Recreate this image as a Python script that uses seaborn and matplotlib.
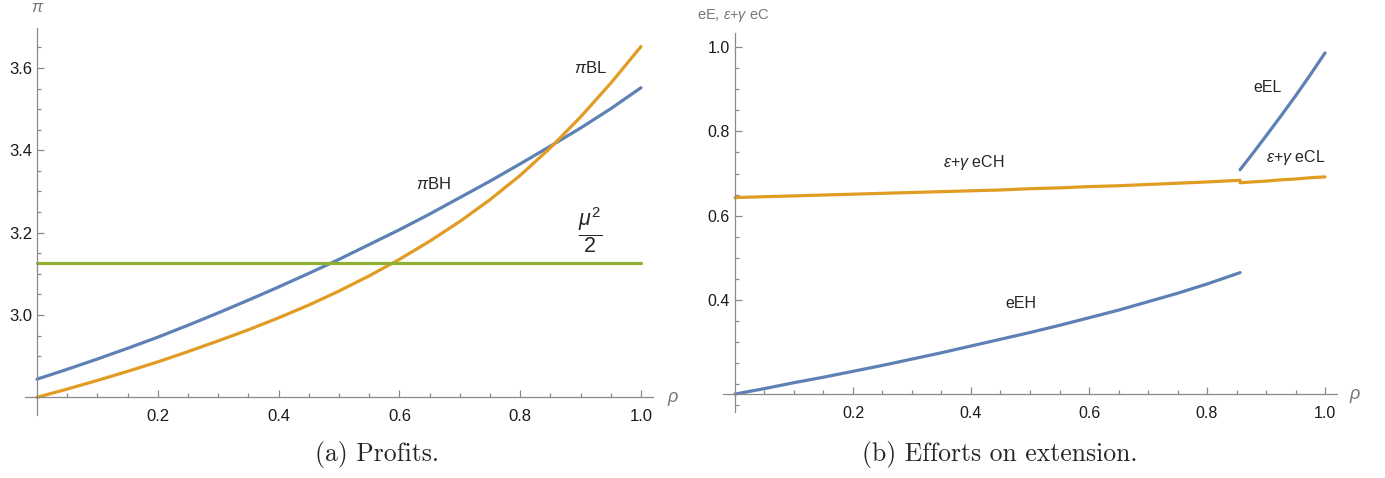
import matplotlib
matplotlib.use("Agg")
import matplotlib.pyplot as plt
import seaborn as sns
import numpy as np
from matplotlib.ticker import FixedLocator

# ---------------- data ----------------
# Profits as a function of rho
rho_profit = [0.00, 0.05, 0.10, 0.15, 0.20, 0.25, 0.30, 0.35, 0.40, 0.45, 0.50,
              0.55, 0.60, 0.65, 0.70, 0.75, 0.80, 0.85, 0.90, 0.95, 1.00]
pi_BH = [2.844, 2.868, 2.893, 2.919, 2.946, 2.975, 3.005, 3.036, 3.068, 3.101, 3.135,
         3.171, 3.207, 3.245, 3.285, 3.325, 3.367, 3.410, 3.454, 3.501, 3.552]
pi_BL = [2.800, 2.820, 2.841, 2.863, 2.886, 2.911, 2.937, 2.964, 2.993, 3.024, 3.058,
         3.095, 3.135, 3.179, 3.227, 3.280, 3.339, 3.406, 3.481, 3.563, 3.652]
rho_flat = [0.0, 1.0]
mu_sq_half = [3.125, 3.125]

# Efforts on extension: high regime up to rho*, low regime after it
rho_H = [0.00, 0.05, 0.10, 0.15, 0.20, 0.25, 0.30, 0.35, 0.40, 0.45, 0.50,
         0.55, 0.60, 0.65, 0.70, 0.75, 0.80, 0.856]
e_EH = [0.177, 0.190, 0.204, 0.217, 0.231, 0.245, 0.260, 0.275, 0.291, 0.307, 0.323,
        0.340, 0.358, 0.376, 0.396, 0.416, 0.438, 0.465]
eps_gamma_eCH = [0.643, 0.645, 0.647, 0.649, 0.651, 0.653, 0.655, 0.657, 0.659, 0.661, 0.664,
                 0.666, 0.669, 0.671, 0.674, 0.677, 0.680, 0.684]
rho_L = [0.856, 0.875, 0.900, 0.925, 0.950, 0.975, 1.000]
e_EL = [0.709, 0.743, 0.789, 0.836, 0.884, 0.934, 0.986]
eps_gamma_eCL = [0.678, 0.680, 0.682, 0.685, 0.687, 0.690, 0.692]

# ---------------- style ----------------
sns.set_style("white")
plt.rcParams["font.family"] = ["Liberation Sans", "DejaVu Sans"]
plt.rcParams["mathtext.fontset"] = "custom"
plt.rcParams["mathtext.rm"] = "Liberation Sans"
plt.rcParams["mathtext.it"] = "Liberation Sans:italic"
plt.rcParams["mathtext.bf"] = "Liberation Sans:bold"

BLUE = "#5E81B5"
ORANGE = "#E19C24"
GREEN = "#8FB032"
AXIS_GRAY = "#8a8a8a"
LABEL_GRAY = "#777777"
LW = 2.3

W, H = 1385, 478
fig = plt.figure(figsize=(W / 100, H / 100), dpi=100)


def px_axes(left, right, top, bottom):
    return fig.add_axes([left / W, 1 - bottom / H, (right - left) / W, (bottom - top) / H])


def style_axes(ax, y_origin, major_y, minor_y, tick_fs):
    for side in ("top", "right"):
        ax.spines[side].set_visible(False)
    ax.spines["left"].set_position(("data", 0))
    ax.spines["bottom"].set_position(("data", y_origin))
    for side in ("left", "bottom"):
        ax.spines[side].set_color(AXIS_GRAY)
        ax.spines[side].set_linewidth(0.9)
    ax.xaxis.set_major_locator(FixedLocator([0.2, 0.4, 0.6, 0.8, 1.0]))
    ax.xaxis.set_minor_locator(FixedLocator(np.round(np.arange(0.05, 1.0001, 0.05), 2)))
    ax.yaxis.set_major_locator(FixedLocator(major_y))
    ax.yaxis.set_minor_locator(FixedLocator(minor_y))
    ax.xaxis.set_major_formatter(plt.FuncFormatter(lambda v, p: f"{v:.1f}"))
    ax.yaxis.set_major_formatter(plt.FuncFormatter(lambda v, p: f"{v:.1f}"))
    ax.tick_params(which="both", direction="in", color=AXIS_GRAY, width=0.9,
                   bottom=True, left=True, top=False, right=False,
                   labelsize=tick_fs, labelcolor="#1a1a1a")
    ax.tick_params(which="major", length=5.2)
    ax.tick_params(which="minor", length=3.2)
    ax.tick_params(axis="x", which="both", pad=8.5)
    ax.tick_params(axis="y", which="both", pad=3.5)
    ax.set_xlabel("")
    ax.set_ylabel("")
    ax.patch.set_alpha(0)


# ---------------- (a) Profits ----------------
ax1 = px_axes(25, 653, 28, 415)
sns.lineplot(x=rho_profit, y=pi_BH, ax=ax1, color=BLUE, linewidth=LW, estimator=None, sort=False)
sns.lineplot(x=rho_profit, y=pi_BL, ax=ax1, color=ORANGE, linewidth=LW, estimator=None, sort=False)
sns.lineplot(x=rho_flat, y=mu_sq_half, ax=ax1, color=GREEN, linewidth=LW, estimator=None, sort=False)
ax1.set_xlim(-0.0199, 1.0199)
ax1.set_ylim(2.757, 3.697)
style_axes(ax1, 2.8, [3.0, 3.2, 3.4, 3.6],
           np.round(np.arange(2.85, 3.6501, 0.05), 2), 12)

ax1.text(0.656, 3.318, r"$\pi$BH", fontsize=12, ha="center", va="center")
ax1.text(0.917, 3.600, r"$\pi$BL", fontsize=12, ha="center", va="center")
ax1.text(0.916, 3.206, r"$\dfrac{\mu^2}{2}$", fontsize=15.5, ha="center", va="center")

fig.text(38 / W, 1 - 7 / H, r"$\pi$", fontsize=12, color=LABEL_GRAY, ha="center", va="center")
fig.text(673 / W, 1 - 399 / H, r"$\rho$", fontsize=13, color=LABEL_GRAY, ha="center", va="center")

# ---------------- (b) Efforts on extension ----------------
ax2 = px_axes(723, 1337, 33, 412)
sns.lineplot(x=rho_H, y=e_EH, ax=ax2, color=BLUE, linewidth=LW, estimator=None, sort=False)
sns.lineplot(x=rho_L, y=e_EL, ax=ax2, color=BLUE, linewidth=LW, estimator=None, sort=False)
sns.lineplot(x=rho_H + rho_L, y=eps_gamma_eCH + eps_gamma_eCL, ax=ax2, color=ORANGE,
             linewidth=LW, estimator=None, sort=False)
ax2.set_xlim(-0.0203, 1.0203)
ax2.set_ylim(0.1345, 1.0332)
style_axes(ax2, 0.177, [0.4, 0.6, 0.8, 1.0],
           np.round(np.arange(0.15, 1.0001, 0.05), 2), 11.5)

ax2.text(0.405, 0.725, r"$\epsilon$+$\gamma$ eCH", fontsize=11.5, ha="center", va="center")
ax2.text(0.903, 0.905, "eEL", fontsize=11.5, ha="center", va="center")
ax2.text(0.951, 0.737, r"$\epsilon$+$\gamma$ eCL", fontsize=11.5, ha="center", va="center")
ax2.text(0.485, 0.391, "eEH", fontsize=11.5, ha="center", va="center")

fig.text(697 / W, 1 - 15 / H, r"eE, $\epsilon$+$\gamma$ eC", fontsize=10.5, color=LABEL_GRAY,
         ha="left", va="center")
fig.text(1355 / W, 1 - 396 / H, r"$\rho$", fontsize=13, color=LABEL_GRAY, ha="center", va="center")

# ---------------- captions ----------------
fig.text(377 / W, 1 - 454 / H, "(a) Profits.", fontsize=18.5, family="cmr10",
         ha="center", va="center")
fig.text(1000 / W, 1 - 454 / H, "(b) Efforts on extension.", fontsize=18.5, family="cmr10",
         ha="center", va="center")

fig.savefig("out.png", dpi=100, facecolor="white")
